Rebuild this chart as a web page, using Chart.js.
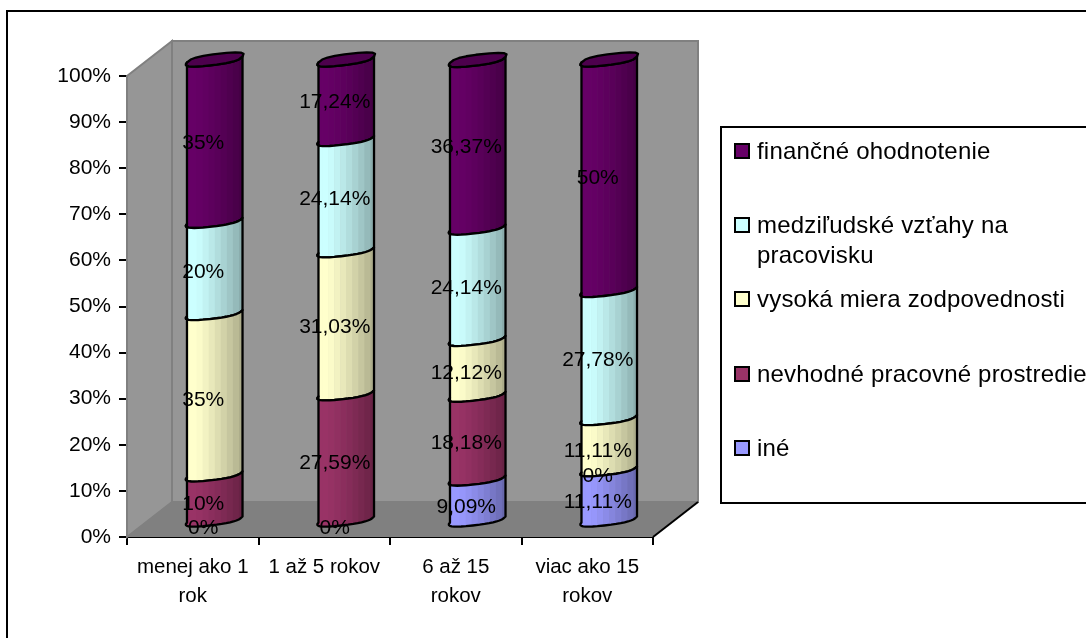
<!DOCTYPE html>
<html lang="sk">
<head>
<meta charset="utf-8">
<style>
  html, body { margin: 0; padding: 0; background: #fff; }
  #wrap { position: relative; width: 1086px; height: 638px; overflow: hidden; }
  canvas { display: block; }
</style>
<script src="https://cdn.jsdelivr.net/npm/chart.js@4/dist/chart.umd.min.js"></script>
</head>
<body>
<div id="wrap"><canvas id="chart" width="1086" height="638"></canvas></div>
<script>
// Categories and stacked shares (in percent), bottom series first.
const categories = [['menej ako 1', 'rok'], '1 až 5 rokov', ['6 až 15', 'rokov'], ['viac ako 15', 'rokov']];
const ine = [0, 0, 9.09, 11.11];
const nevhodne = [10, 27.59, 18.18, 0];
const vysoka = [35, 31.03, 12.12, 11.11];
const medziludske = [20, 24.14, 24.14, 27.78];
const financne = [35, 17.24, 36.37, 50];
const seriesNames = ['iné', 'nevhodné pracovné prostredie', 'vysoká miera zodpovednosti', 'medziľudské vzťahy na pracovisku', 'finančné ohodnotenie'];
const seriesColors = ['#9999FF', '#993366', '#FFFFCC', '#CCFFFF', '#660066'];
const yTicks = [0, 10, 20, 30, 40, 50, 60, 70, 80, 90, 100];

const FONT = '"Liberation Sans", Arial, sans-serif';
const DEPTH = { x: 45, y: 35 };

function shade(hex, k) {
  const n = parseInt(hex.slice(1), 16);
  const c = [n >> 16, (n >> 8) & 255, n & 255].map(v => Math.round(v * k));
  return `rgb(${c[0]},${c[1]},${c[2]})`;
}

// Box walls and floor behind the cylinders, derived from the plot area.
const wallsPlugin = {
  id: 'walls',
  beforeDatasetsDraw(chart) {
    const { ctx, chartArea: a } = chart;
    const dx = DEPTH.x, dy = DEPTH.y;
    const poly = (pts, fill, stroke, lw) => {
      ctx.beginPath();
      pts.forEach((p, i) => i ? ctx.lineTo(p[0], p[1]) : ctx.moveTo(p[0], p[1]));
      ctx.closePath();
      if (fill) { ctx.fillStyle = fill; ctx.fill(); }
      if (stroke) { ctx.strokeStyle = stroke; ctx.lineWidth = lw; ctx.stroke(); }
    };
    ctx.save();
    // back wall
    poly([[a.left + dx, a.top - dy], [a.right + dx, a.top - dy], [a.right + dx, a.bottom - dy], [a.left + dx, a.bottom - dy]], '#969696', '#808080', 2);
    // left wall
    poly([[a.left, a.top], [a.left + dx, a.top - dy], [a.left + dx, a.bottom - dy], [a.left, a.bottom]], '#969696', '#808080', 2);
    // floor
    poly([[a.left, a.bottom], [a.left + dx, a.bottom - dy], [a.right + dx, a.bottom - dy], [a.right, a.bottom]], '#808080', null, 0);
    // front-right floor edge
    ctx.beginPath();
    ctx.moveTo(a.right, a.bottom);
    ctx.lineTo(a.right + dx, a.bottom - dy);
    ctx.strokeStyle = '#000';
    ctx.lineWidth = 2;
    ctx.stroke();
    ctx.restore();
  }
};

// Point on the tilted, slightly squared-off section of a cylinder.
function rim(cx, cy, rx, t) {
  const c = Math.cos(t), s = Math.sin(t);
  const pc = Math.sign(c) * Math.pow(Math.abs(c), 0.8);
  const ps = Math.sign(s) * Math.pow(Math.abs(s), 0.7);
  const ux = rx - 0.5, uy = -3, vx = 5, vy = -6;
  return [cx + ux * pc + vx * ps, cy + uy * pc + vy * ps];
}
const FACETS = 18;

function sectionPath(ctx, cx, cy, rx, from, to, first) {
  for (let i = 0; i <= FACETS; i++) {
    const t = from + (to - from) * i / FACETS;
    const p = rim(cx, cy, rx, t);
    if (i === 0 && first) ctx.moveTo(p[0], p[1]); else ctx.lineTo(p[0], p[1]);
  }
}

function drawCylinder(ctx, cx, yTop, yBase, rx, color, withCap) {
  ctx.save();
  ctx.lineJoin = 'round';
  const body = new Path2D();
  // lower front rim: from the right end round the bottom to the left end
  sectionPath(body, cx, yBase, rx, 0, -Math.PI, true);
  // upper front rim back again
  sectionPath(body, cx, yTop, rx, -Math.PI, 0, false);
  body.closePath();

  ctx.save();
  ctx.clip(body);
  const bands = 10;
  const left = cx - rx - 2, w = (2 * rx + 4) / bands;
  for (let i = 0; i < bands; i++) {
    const f = i / (bands - 1);
    const k = f < 0.15 ? 1 : 1 - 0.32 * Math.pow((f - 0.15) / 0.85, 1.2);
    ctx.fillStyle = shade(color, k);
    ctx.fillRect(left + i * w, yTop - 12, w + 0.6, yBase - yTop + 24);
  }
  ctx.restore();

  ctx.strokeStyle = '#000';
  ctx.lineWidth = 2.3;
  ctx.stroke(body);

  if (withCap) {
    const cap = new Path2D();
    sectionPath(cap, cx, yTop, rx, 0, 2 * Math.PI, true);
    cap.closePath();
    ctx.fillStyle = shade(color, 0.75);
    ctx.fill(cap);
    ctx.stroke(cap);
  }
  ctx.restore();
}

// Cylinders replace the flat bars; geometry still comes from the bar elements.
const cylinderPlugin = {
  id: 'cylinders',
  beforeDatasetDraw(chart, args) {
    const { ctx } = chart;
    const meta = args.meta;
    const color = chart.data.datasets[args.index].backgroundColor;
    meta.data.forEach((el, i) => {
      const v = chart.data.datasets[args.index].data[i];
      if (!v) return;
      const stackAbove = chart.data.datasets.slice(args.index + 1).some(d => d.data[i] > 0);
      drawCylinder(ctx, el.x + 22, el.y - 16.5, el.base - 16.5, el.width / 2, color, !stackAbove);
    });
    return false;
  }
};

// Percent labels in the Slovak number format, drawn over all cylinders.
const valueLabelsPlugin = {
  id: 'valueLabels',
  afterDatasetsDraw(chart) {
    const { ctx, chartArea: a } = chart;
    ctx.save();
    ctx.font = '21px ' + FONT;
    ctx.fillStyle = '#000';
    ctx.textAlign = 'center';
    ctx.textBaseline = 'middle';
    chart.data.datasets.forEach((ds, di) => {
      chart.getDatasetMeta(di).data.forEach((el, i) => {
        const text = String(ds.data[i]).replace('.', ',') + '%';
        const mid = (el.y + el.base) / 2;
        const lift = 14 - 5.5 * (mid - a.top) / (a.bottom - a.top);
        ctx.fillText(text, el.x + 10.5, mid - lift);
      });
    });
    ctx.restore();
  }
};

// Chart frame and the boxed legend to the right of the plot.
const legendRows = [
  { series: 4, lines: ['finančné ohodnotenie'], y: 159 },
  { series: 3, lines: ['medziľudské vzťahy na', 'pracovisku'], y: 233 },
  { series: 2, lines: ['vysoká miera zodpovednosti'], y: 307 },
  { series: 1, lines: ['nevhodné pracovné prostredie'], y: 382 },
  { series: 0, lines: ['iné'], y: 456 }
];
const framePlugin = {
  id: 'frame',
  beforeDraw(chart) {
    const { ctx } = chart;
    ctx.save();
    ctx.fillStyle = '#fff';
    ctx.fillRect(0, 0, 1086, 638);
    ctx.strokeStyle = '#000';
    ctx.lineWidth = 2;
    ctx.beginPath();
    ctx.moveTo(7, 638);
    ctx.lineTo(7, 11);
    ctx.lineTo(1086, 11);
    ctx.stroke();
    ctx.beginPath();
    ctx.moveTo(1086, 127);
    ctx.lineTo(721, 127);
    ctx.lineTo(721, 503);
    ctx.lineTo(1086, 503);
    ctx.stroke();

    ctx.font = '24px ' + FONT;
    ctx.letterSpacing = '0.2px';
    ctx.textBaseline = 'alphabetic';
    ctx.textAlign = 'left';
    legendRows.forEach(row => {
      ctx.fillStyle = seriesColors[row.series];
      ctx.fillRect(735, row.y - 15, 14, 14);
      ctx.strokeRect(735, row.y - 15, 14, 14);
      ctx.fillStyle = '#000';
      row.lines.forEach((line, i) => ctx.fillText(line, 757, row.y + i * 30));
    });
    ctx.restore();
  }
};

const series = [ine, nevhodne, vysoka, medziludske, financne];

new Chart(document.getElementById('chart'), {
  type: 'bar',
  data: {
    labels: categories,
    datasets: series.map((values, i) => ({
      label: seriesNames[i],
      data: values,
      backgroundColor: seriesColors[i],
      categoryPercentage: 1,
      barPercentage: 0.43
    }))
  },
  options: {
    responsive: false,
    animation: false,
    events: [],
    layout: { padding: { top: 76, right: 433, left: 0, bottom: 0 } },
    plugins: { legend: { display: false }, tooltip: { enabled: false }, title: { display: false } },
    scales: {
      x: {
        stacked: true,
        afterFit(scale) { scale.height = 101; },
        grid: { display: true, drawOnChartArea: false, drawTicks: true, tickLength: 8, color: '#000', lineWidth: 2, offset: true },
        border: { display: true, color: '#000', width: 2 },
        ticks: { color: '#000', font: { family: FONT, size: 20.5, lineHeight: 1.42 }, padding: 8, maxRotation: 0, autoSkip: false }
      },
      y: {
        stacked: true,
        min: 0,
        max: 100,
        afterFit(scale) { scale.width = 127; },
        afterBuildTicks(scale) { scale.ticks = yTicks.map(value => ({ value })); },
        grid: { display: true, drawOnChartArea: false, drawTicks: true, tickLength: 8, color: '#000', lineWidth: 2 },
        border: { display: true, color: '#000', width: 2 },
        ticks: { color: '#000', font: { family: FONT, size: 21 }, padding: 8, callback: v => v + '%' }
      }
    }
  },
  plugins: [framePlugin, wallsPlugin, cylinderPlugin, valueLabelsPlugin]
});
</script>
</body>
</html>
